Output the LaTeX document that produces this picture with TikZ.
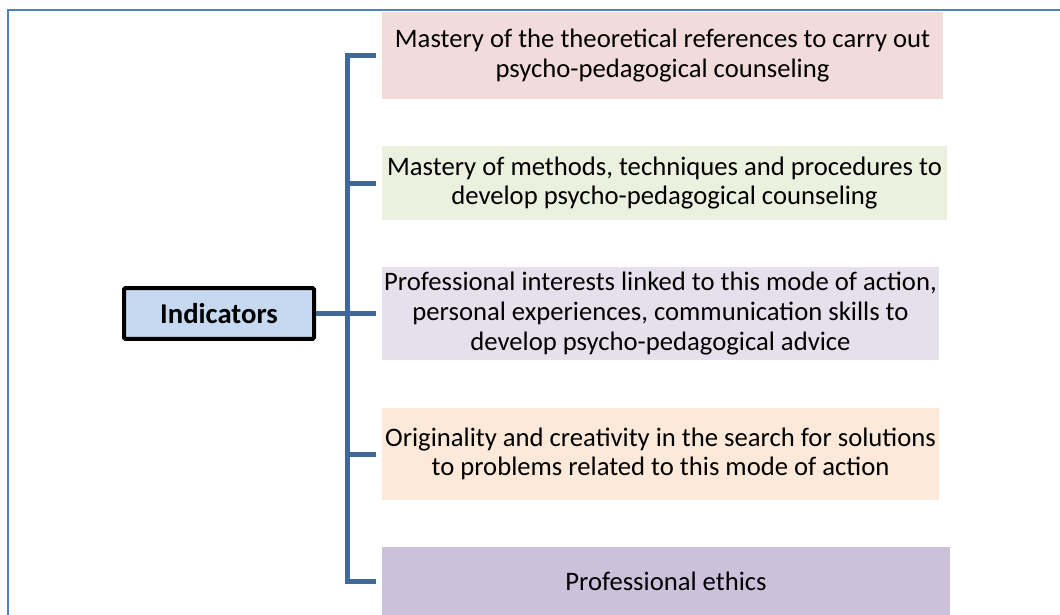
\documentclass[tikz,border=0pt]{standalone}
\usepackage{fontspec}
\setmainfont{Carlito}
\definecolor{frameblue}{RGB}{79,129,189}
\definecolor{linkblue}{RGB}{65,104,152}
\definecolor{indfill}{HTML}{C6D9F1}
\definecolor{pinkbox}{HTML}{F2DCDB}
\definecolor{greenbox}{HTML}{EBF1DE}
\definecolor{lavbox}{HTML}{E5E0EC}
\definecolor{peachbox}{HTML}{FDE9D9}
\definecolor{purplebox}{HTML}{CCC1DA}
\begin{document}
\begin{tikzpicture}[x=0.75pt,y=-0.75pt,
    item/.style={inner sep=0pt, align=center,
        font=\fontsize{20}{22.2}\selectfont},
    root/.style={draw=black, line width=3pt, rounded corners=1pt, fill=indfill,
        minimum width=142.5pt, minimum height=38pt, inner sep=0pt,
        font=\fontsize{21.5}{24}\selectfont\bfseries},
    link/.style={linkblue, line width=3.75pt}]
    \useasboundingbox (0,0) rectangle (1060,614);
    \draw[frameblue, line width=1.1pt] (8,620) -- (8,10) -- (1065,10);

    \node[item, fill=pinkbox, minimum width=420.75pt, minimum height=65.25pt] (b1) at (662.5,55.5)
        {Mastery of the theoretical references to carry out\\ psycho-pedagogical counseling};
    \node[item, fill=greenbox, minimum width=423.75pt, minimum height=55.5pt] (b2) at (664.5,183)
        {Mastery of methods, techniques and procedures to\\ develop psycho-pedagogical counseling};
    \node[item, fill=lavbox, minimum width=417.75pt, minimum height=69.75pt] (b3) at (660.5,313.5)
        {Professional interests linked to this mode of action,\\ personal experiences, communication skills to\\ develop psycho-pedagogical advice};
    \node[item, fill=peachbox, minimum width=417.75pt, minimum height=69pt] (b4) at (660.5,454)
        {Originality and creativity in the search for solutions\\ to problems related to this mode of action};
    \node[item, fill=purplebox, minimum width=426pt, minimum height=51pt] (b5) at (666,581)
        {Professional ethics};
    \node[root] (ind) at (219,313.5) {Indicators};

    % bracket
    \draw[link] ([xshift=-4.5pt]b1.west) -| ([xshift=-26pt]b3.west) |- ([xshift=-4.5pt]b5.west);
    \foreach \b in {b2,b4}
        \draw[link] ([xshift=-4.5pt]\b.west) -- ([xshift=-26pt]\b.west);
    \draw[link] (ind.east) -- ([xshift=-4.5pt]b3.west);
\end{tikzpicture}
\end{document}
